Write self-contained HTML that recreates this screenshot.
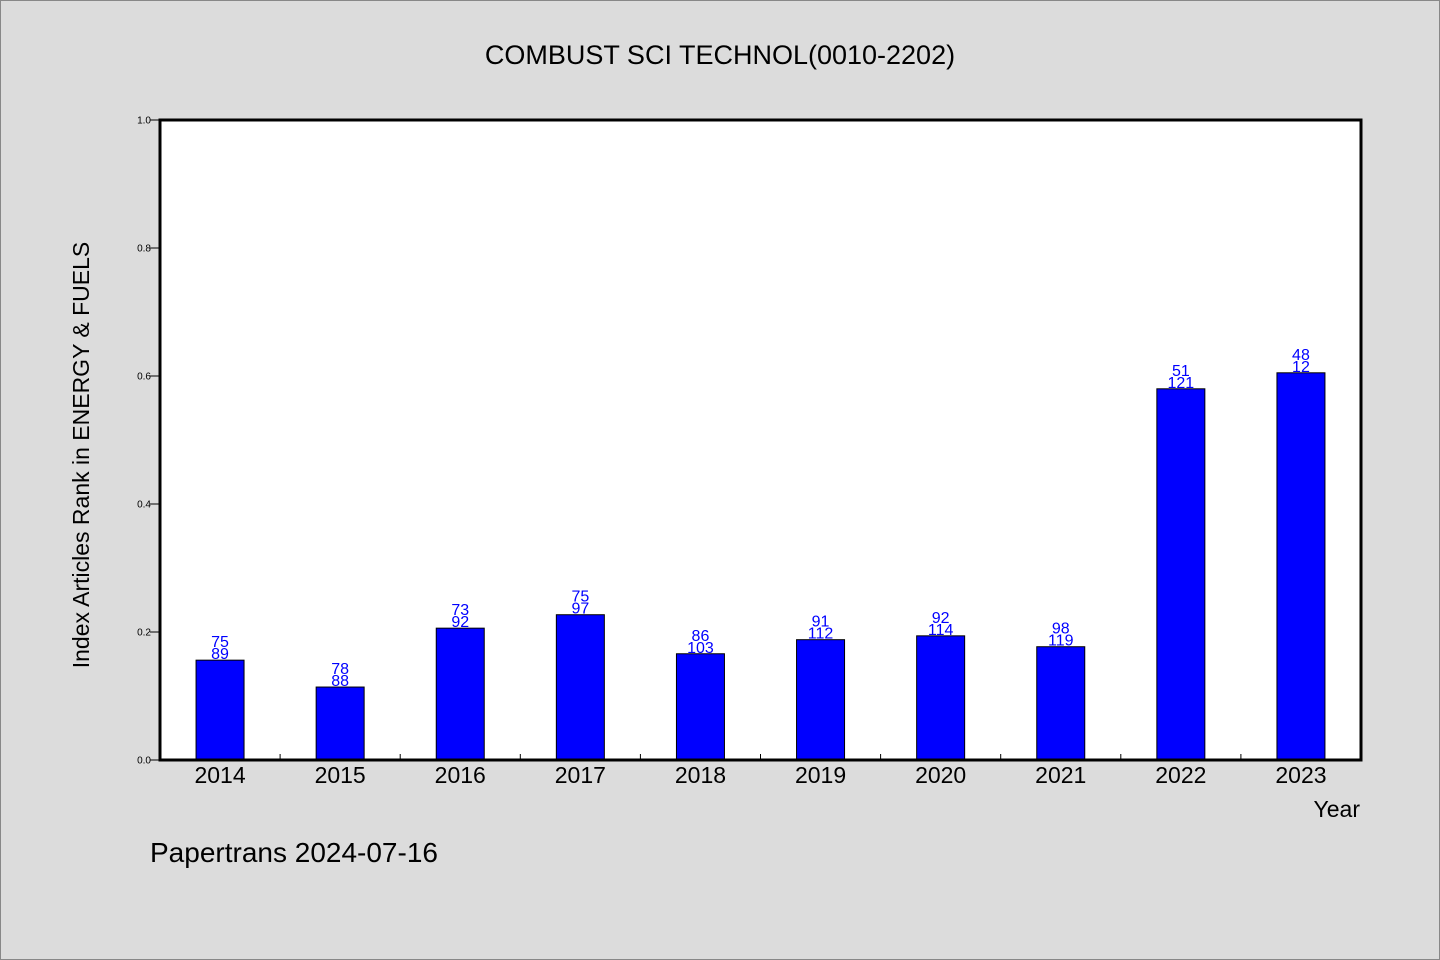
<!DOCTYPE html>
<html><head><meta charset="utf-8"><style>
body{margin:0;background:#dcdcdc;}
svg{display:block;font-family:"WenQuanYi Zen Hei","Liberation Sans",sans-serif;}
</style></head><body>
<svg id="chart" width="1440" height="960" xmlns="http://www.w3.org/2000/svg">
<rect x="0.5" y="0.5" width="1439" height="959" fill="#dcdcdc" stroke="#888"/>
<text x="720" y="64" text-anchor="middle" font-size="27" fill="#000">COMBUST SCI TECHNOL(0010-2202)</text>
<rect x="160" y="120" width="1201" height="640" fill="#fff"/>
<g id="ticks"></g>
<g id="bars"></g>
<rect x="160" y="120" width="1201" height="640" fill="none" stroke="#000" stroke-width="3"/>
<text transform="translate(89,455) rotate(-90)" text-anchor="middle" font-size="23" fill="#000">Index Articles Rank in ENERGY &amp; FUELS</text>
<text x="1360" y="817" text-anchor="end" font-size="23" fill="#000">Year</text>
<text x="150" y="862" font-size="28" fill="#000">Papertrans 2024-07-16</text>
</svg>
<script>
const categories=["2014","2015","2016","2017","2018","2019","2020","2021","2022","2023"];
const values=[0.156,0.114,0.206,0.227,0.166,0.188,0.194,0.177,0.580,0.605];
const labelTop=["75","78","73","75","86","91","92","98","51","48"];
const labelBottom=["89","88","92","97","103","112","114","119","121","12"];
const yTicks=[0,0.2,0.4,0.6,0.8,1.0];
const yTickLabels=["0.0","0.2","0.4","0.6","0.8","1.0"];
const NS="http://www.w3.org/2000/svg";
const X0=160,X1=1361,Y0=760,Y1=120;
const band=(X1-X0)/categories.length;
const xS=i=>X0+band*i+band/2;
const yS=v=>Y0-(Y0-Y1)*v;
function mk(t,a,p){const e=document.createElementNS(NS,t);for(const k in a)e.setAttribute(k,a[k]);p.appendChild(e);return e;}
const tg=document.getElementById('ticks'),bg=document.getElementById('bars');
yTicks.forEach((v,i)=>{
 const l=mk('line',{x1:150,x2:160,y1:yS(v),y2:yS(v),stroke:'#000','stroke-width':1},tg);
 
 
 const t=mk('text',{x:151,y:yS(v)+3.5,'text-anchor':'end','font-size':10,fill:'#000'},tg);
 t.textContent=yTickLabels[i];
 
 
});
categories.forEach((c,i)=>{
 if(i>0){const l=mk('line',{x1:X0+band*i,x2:X0+band*i,y1:Y0,y2:Y0-6,stroke:'#000','stroke-width':1},tg);
 
 }
 const cx=xS(i),top=yS(values[i]);
 const r=mk('rect',{x:cx-24,y:top,width:48,height:Y0-top,fill:'#0000ff',stroke:'#000','stroke-width':1},bg);
 
 
 const a=mk('text',{x:cx,y:top-13,'text-anchor':'middle','font-size':16,fill:'#0000ff'},bg);
 a.textContent=labelTop[i];
 
 
 const b=mk('text',{x:cx,y:top-1,'text-anchor':'middle','font-size':16,fill:'#0000ff'},bg);
 b.textContent=labelBottom[i];
 
 
 const t=mk('text',{x:cx,y:783,'text-anchor':'middle','font-size':23,fill:'#000'},bg);
 t.textContent=c;
 
 
});
</script>
</body></html>
